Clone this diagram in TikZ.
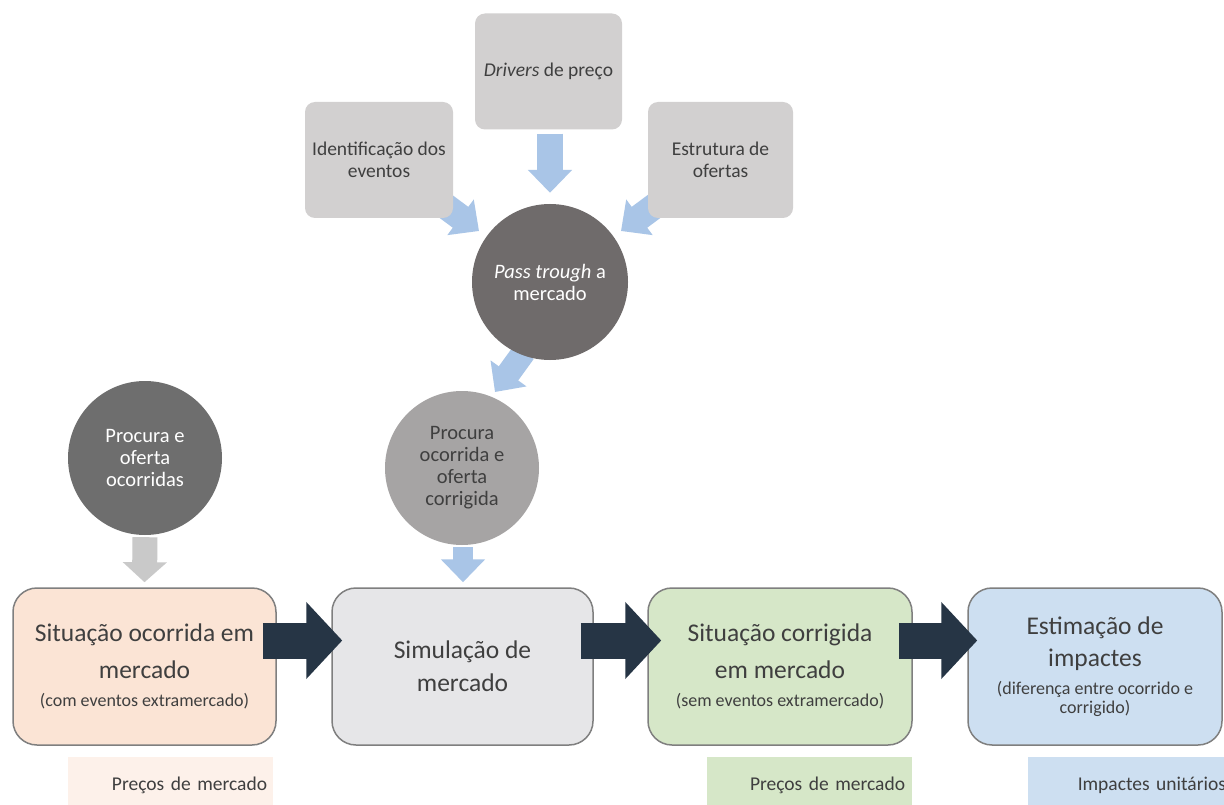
\documentclass[tikz,border=0pt]{standalone}
\usepackage{fontspec}
\setmainfont{Carlito}
\usetikzlibrary{arrows.meta,calc}
\pgfdeclarelayer{bg}
\pgfsetlayers{bg,main}
\definecolor{topgray}{HTML}{D2D0D0}
\definecolor{passgray}{HTML}{6F6B6B}
\definecolor{pocgray}{HTML}{6E6E6E}
\definecolor{pcogray}{HTML}{A6A4A4}
\definecolor{bluearr}{HTML}{A9C5E7}
\definecolor{grayarr}{HTML}{C9C9C9}
\definecolor{darkarr}{HTML}{263545}
\definecolor{peach}{HTML}{FBE4D5}
\definecolor{peachlight}{HTML}{FDF1EA}
\definecolor{boxgray}{HTML}{E6E6E8}
\definecolor{boxgreen}{HTML}{D6E7C8}
\definecolor{boxblue}{HTML}{CDDFF1}
\definecolor{bordergray}{HTML}{7F7F7F}
\definecolor{txt}{HTML}{3F3F3F}
\newcommand{\smalltxt}{\fontsize{18}{20}\selectfont}
\begin{document}
\begin{tikzpicture}[x=1pt,y=-1pt,
  topbox/.style={rectangle, rounded corners=10pt, fill=topgray, minimum width=147pt,
    minimum height=116pt, inner sep=0pt, align=center, text=txt,
    font=\fontsize{19.5}{22}\selectfont},
  circ/.style={circle, minimum size=156pt, inner sep=0pt, align=center,
    font=\fontsize{20.5}{22}\selectfont},
  mainbox/.style={rectangle, rounded corners=24pt, draw=bordergray, line width=1.5pt,
    minimum height=157pt, inner sep=0pt, align=center, text=txt,
    font=\fontsize{25.5}{37}\selectfont},
  lblbox/.style={rectangle, minimum height=56pt, inner ysep=0pt, align=right,
    text=txt, font=\fontsize{19.5}{22}\selectfont},
  bluearrow/.style={draw=bluearr, line width=#1, -{Triangle[width=43pt,length=23pt]}},
  grayarrow/.style={draw=grayarr, line width=25pt, -{Triangle[width=43pt,length=20pt]}},
  darkarrow/.style={draw=darkarr, line width=36pt, -{Triangle[width=75pt,length=36pt]}}
]
\useasboundingbox (0,0) rectangle (1224,805);

% top boxes
\node[topbox] (drv) at (548.5,71.5) {\textit{Drivers} de preço};
\node[topbox, minimum width=148pt] (ide) at (379,160) {Identificação dos\\eventos};
\node[topbox, minimum width=145pt] (est) at (720.5,160) {Estrutura de\\ofertas};

% circles
\node[circ, fill=passgray, text=white] (pass) at (550,282) {\textit{Pass trough} a\\mercado};
\node[circ, fill=pocgray, text=white, minimum size=154pt] (poc) at (145,458) {Procura e\\oferta\\ocorridas};
\node[circ, fill=pcogray, text=txt, minimum size=154pt] (pco) at (462,468) {Procura\\ocorrida e\\oferta\\corrigida};

% main boxes
\node[mainbox, fill=peach, minimum width=263pt] (b1) at (144.5,666.5)
  {Situação ocorrida em\\mercado\\[-9pt]{\smalltxt (com eventos extramercado)}};
\node[mainbox, fill=boxgray, minimum width=261pt, font=\fontsize{25.5}{33}\selectfont] (b2) at (462.5,666.5)
  {Simulação de\\mercado};
\node[mainbox, fill=boxgreen, minimum width=264pt] (b3) at (780,666.5)
  {Situação corrigida\\em mercado\\[-9pt]{\smalltxt (sem eventos extramercado)}};
\node[mainbox, fill=boxblue, minimum width=254pt, font=\fontsize{25.5}{32}\selectfont] (b4) at (1095,666.5)
  {Estimação de\\impactes\\[-4pt]{\smalltxt (diferença entre ocorrido e}\\[-13pt]{\smalltxt corrigido)}};

% labels
\node[lblbox, fill=peachlight, text width=193pt, inner xsep=6pt] (l1) at (170.5,785) {Preços de mercado};
\node[lblbox, fill=boxgreen, text width=191pt, inner xsep=7pt] (l3) at (809.5,785) {Preços de mercado};
\node[lblbox, fill=boxblue, text width=196pt, inner xsep=2pt] (l4) at (1128,785) {Impactes unitários};

% light arrows behind shapes
\begin{pgfonlayer}{bg}
\fill[white] (0,0) rectangle (1224,805);
\draw[bluearrow=26pt] ($(drv.south)+(1.5,4)$) -- ($(pass.north)+(0,-11)$);
\draw[bluearrow=26pt] ($(ide.south east)+(-13,-16)$) -- ($(pass.center)+(-71,-51)$);
\draw[bluearrow=26pt] ($(est.south west)+(12,-16)$) -- ($(pass.center)+(71,-51)$);
\draw[bluearrow=24pt] ($(pass.center)+(-26,70)$) -- ($(pco.center)+(33,-76)$);
\draw[bluearrow=20pt] ($(pco.south)+(1,2)$) -- ($(b2.north)+(0.5,-5)$);
\draw[grayarrow] ($(poc.south)+(0,2)$) -- ($(b1.north)+(0,-5)$);
\end{pgfonlayer}

% dark process arrows
\draw[darkarrow] ($(b1.east)+(-14,-26)$) -- ($(b2.west)+(11,-26)$);
\draw[darkarrow] ($(b2.east)+(-13,-26)$) -- ($(b3.west)+(14,-26)$);
\draw[darkarrow] ($(b3.east)+(-14,-26)$) -- ($(b4.west)+(10,-26)$);
\end{tikzpicture}
\end{document}
